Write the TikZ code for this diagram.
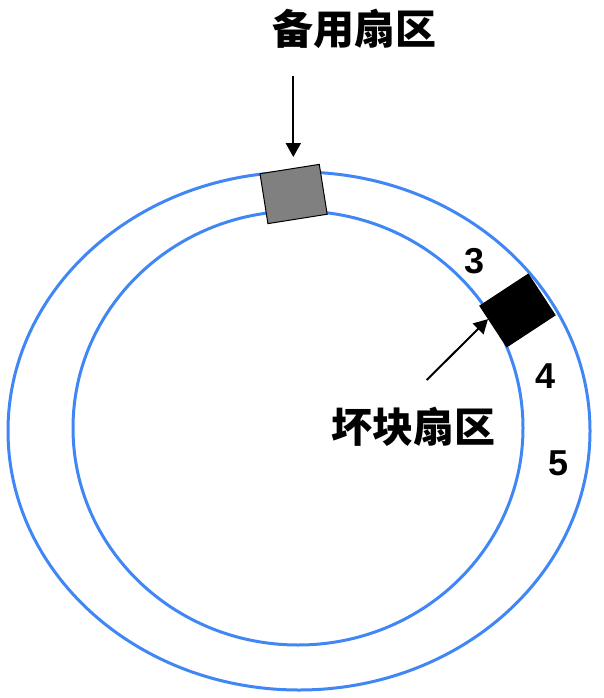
\documentclass[tikz,border=0pt]{standalone}
\usepackage{fontspec}
\setmainfont{Liberation Sans}
\newfontfamily\cjk{Noto Sans CJK SC}
\usetikzlibrary{arrows.meta}
\definecolor{trackblue}{RGB}{64,135,245}
\definecolor{sparegray}{RGB}{128,128,128}

\begin{document}
\begin{tikzpicture}[x=1pt,y=-1pt,
  track/.style={trackblue,line width=3pt},
  sector/.style={draw=black,line width=1pt,inner sep=0pt},
  label/.style={font=\fontsize{36}{36}\selectfont\bfseries,inner sep=0pt},
  cjklabel/.style={font=\fontsize{41}{41}\selectfont\cjk\bfseries,inner sep=0pt},
  pointer/.style={black,line width=2pt,-{Triangle[length=14pt,width=15pt]}}]
\useasboundingbox (0,0) rectangle (604,698);
\draw[track] (299,431) ellipse (291 and 259);
\draw[track] (298,428) ellipse (225 and 217);
\node[sector,fill=sparegray,minimum width=60pt,minimum height=50.5pt,rotate=9] (spare) at (293.6,194) {};
\node[sector,fill=black,minimum width=57.8pt,minimum height=49pt,rotate=33.3] (bad) at (517.5,310.5) {};
\node[cjklabel] (sparetext) at (354,29) {备用扇区};
\node[cjklabel] (badtext) at (413,427) {坏块扇区};
\foreach \n/\x/\y in {3/475/261.5, 4/546/376, 5/558.5/463} {
 \node[label] (d\n) at (\x,\y) {\n};
}
\coordinate (sparetail) at (293.3,76);
\coordinate (sparetip) at (293.3,157);
\coordinate (badtail) at (426.7,380);
\draw[pointer] (sparetail) -- (sparetip);
\draw[pointer] (badtail) -- (bad.163);
\end{tikzpicture}
\end{document}
